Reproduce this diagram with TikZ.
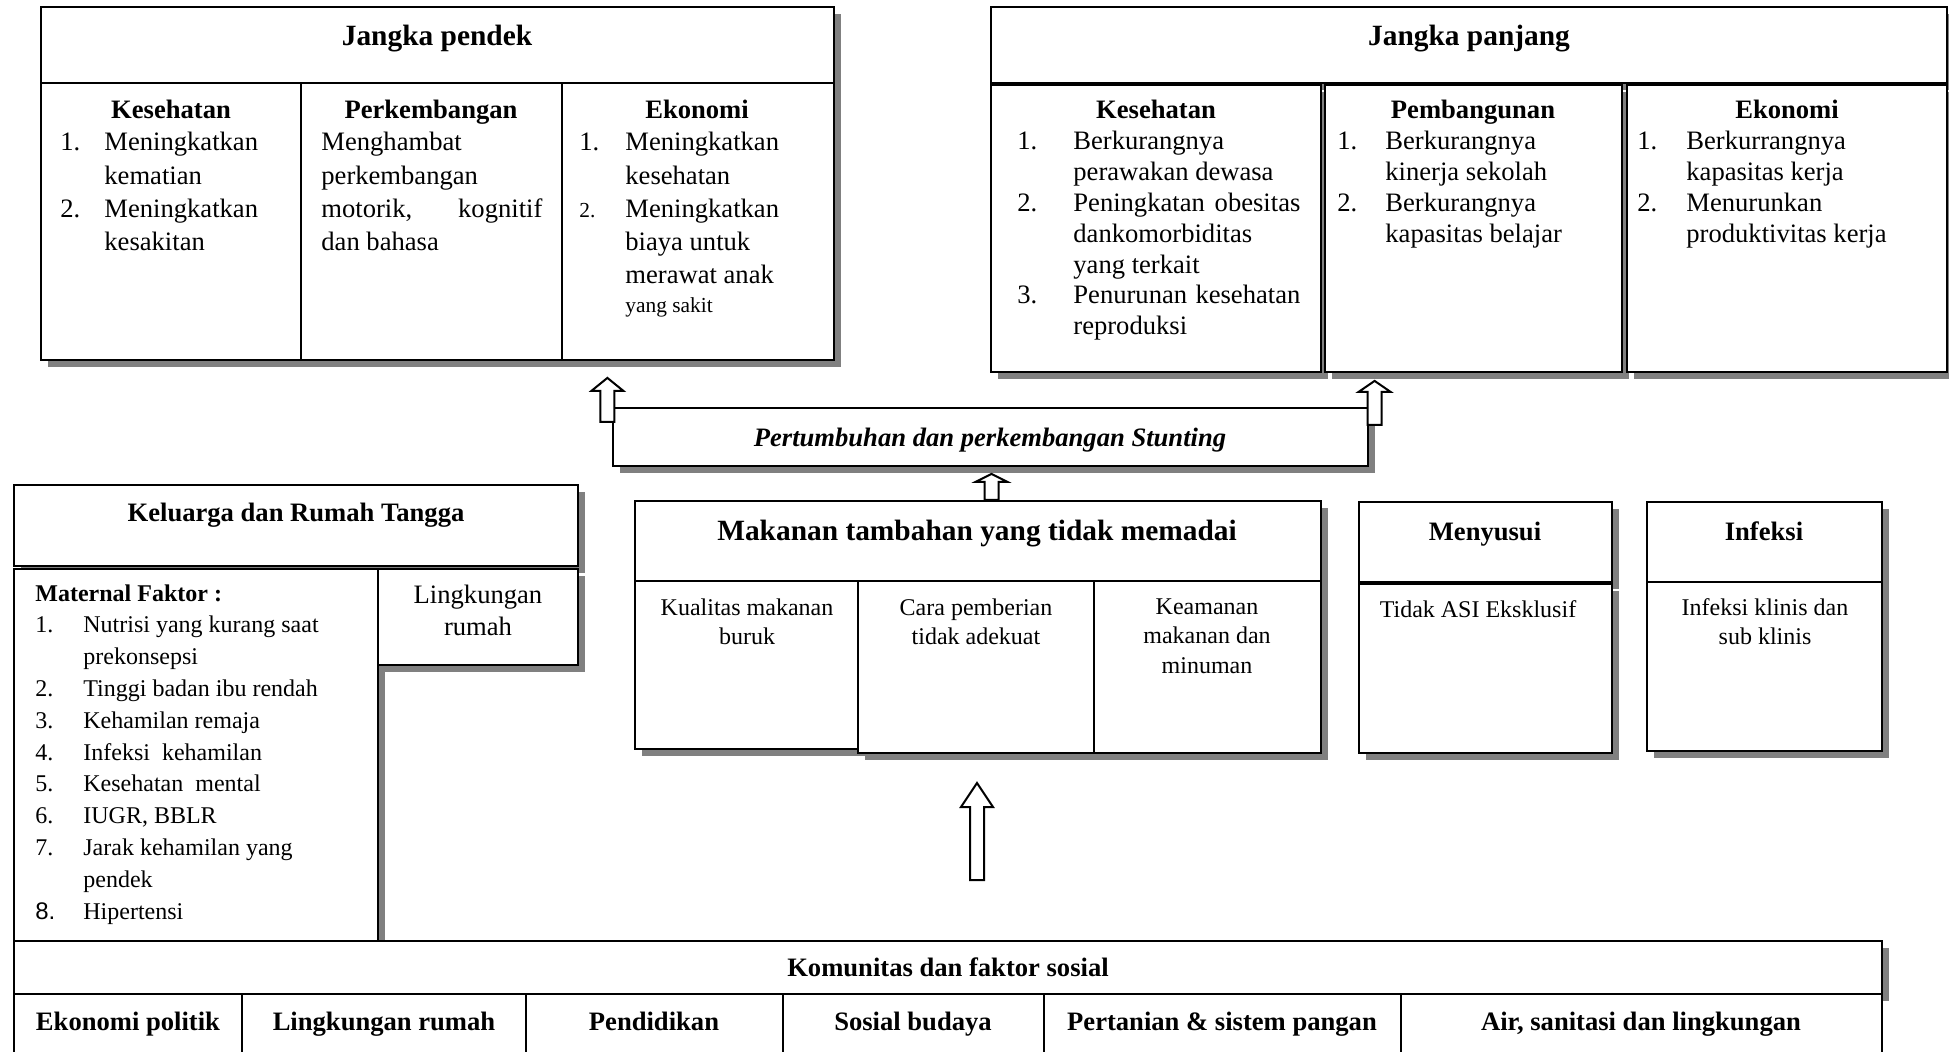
\documentclass[tikz,border=0pt]{standalone}
\usepackage{fontspec}
\setmainfont{Liberation Serif}
\newfontfamily\sansf{Liberation Sans}
\usetikzlibrary{fit,shadows}
\definecolor{shgray}{RGB}{128,128,128}
\newlength\numw
\newcommand\numlbl[1]{\makebox[\numw][l]{#1}}
\newcommand\numgap{\hspace*{\numw}}
\newcommand\fbody{\fontsize{13.3pt}{16.6pt}\selectfont}
\newcommand\fbodyb{\fontsize{13.3pt}{15.4pt}\selectfont}
\newcommand\fsmall{\fontsize{12pt}{15.9pt}\selectfont}
\newcommand\ftiny{\fontsize{10.7pt}{12pt}\selectfont}

\begin{document}
\begin{tikzpicture}
        [x=0.5pt, y=-0.5pt,
         box/.style={draw, line width=1.1pt, fill=white, inner sep=0pt},
         shbox/.style={box, drop shadow={shadow xshift=3.5pt, shadow yshift=-3.5pt, fill=shgray, opacity=1}},
         ttl/.style={inner sep=0pt, anchor=base, font=\fontsize{14.7pt}{17pt}\selectfont\bfseries},
         hd/.style={inner sep=0pt, anchor=base, font=\fontsize{13.3pt}{16pt}\selectfont\bfseries},
         hdit/.style={inner sep=0pt, anchor=base, font=\fontsize{13.3pt}{16pt}\selectfont\bfseries\itshape},
         lst/.style={inner sep=0pt, anchor=north west, align=left},
         cell/.style={inner sep=0pt, anchor=north, align=center, font=\fontsize{12pt}{14.75pt}\selectfont},
         arrowline/.style={draw, fill=white, line width=1pt, line join=miter},
         pics/uparrow/.style 2 args={code={
           \draw[arrowline] (-7,0) -- (-7,{-#1+#2}) -- (-16,{-#1+#2}) -- (0,-#1)
             -- (16,{-#1+#2}) -- (7,{-#1+#2}) -- (7,0) -- cycle;}}]

        \useasboundingbox (0,0) rectangle (1949,1051);

        % jangka pendek
        \node[shbox, fit={(41,7) (834,83)}] (pendek) {};
        \node[shbox, fit={(41,83) (301,360)}] (pendek1) {};
        \node[shbox, fit={(301,83) (562,360)}] (pendek2) {};
        \node[shbox, fit={(562,83) (834,360)}] (pendek3) {};
        \node[ttl] (tpendek) at (437,45) {Jangka pendek};
        \node[hd] (hpendek1) at (171,118) {Kesehatan};
        \node[hd] (hpendek2) at (431,118) {Perkembangan};
        \node[hd] (hpendek3) at (697,118) {Ekonomi};
        \node[lst, font=\fbody\setlength\numw{22pt}] (lpendek1) at (60,132)
          {\numlbl{1.}Meningkatkan\\\numgap kematian\\\numlbl{2.}Meningkatkan\\\numgap kesakitan};
        \node[lst, font=\fbody] (lpendek2) at (321,132)
          {Menghambat\\perkembangan\\\makebox[110.5pt][s]{motorik, kognitif}\\dan bahasa};
        \node[lst, font=\fbody\setlength\numw{23pt}] (lpendek3) at (579,132)
          {\numlbl{1.}Meningkatkan\\\numgap kesehatan\\\numlbl{\ftiny 2.}Meningkatkan\\\numgap biaya untuk\\\numgap merawat anak\\[-2pt]\numgap{\ftiny yang sakit}};

        % jangka panjang
        \node[shbox, fit={(991,7) (1947,83)}] (panjang) {};
        \node[shbox, fit={(991,85) (1321,372)}] (panjang1) {};
        \node[shbox, fit={(1325,85) (1622,372)}] (panjang2) {};
        \node[shbox, fit={(1627,85) (1947,372)}] (panjang3) {};
        \node[ttl] (tpanjang) at (1469,45) {Jangka panjang};
        \node[hd] (hpanjang1) at (1156,118) {Kesehatan};
        \node[hd] (hpanjang2) at (1473,118) {Pembangunan};
        \node[hd] (hpanjang3) at (1787,118) {Ekonomi};
        \node[lst, font=\fbodyb\setlength\numw{28pt}] (lpanjang1) at (1017,131)
          {\numlbl{1.}Berkurangnya\\\numgap perawakan dewasa\\\numlbl{2.}\makebox[113.5pt][s]{Peningkatan obesitas}\\\numgap dankomorbiditas\\\numgap yang terkait\\\numlbl{3.}\makebox[113.5pt][s]{Penurunan kesehatan}\\\numgap reproduksi};
        \node[lst, font=\fbodyb\setlength\numw{24pt}] (lpanjang2) at (1337,131)
          {\numlbl{1.}Berkurangnya\\\numgap kinerja sekolah\\\numlbl{2.}Berkurangnya\\\numgap kapasitas belajar};
        \node[lst, font=\fbodyb\setlength\numw{24.5pt}] (lpanjang3) at (1637,131)
          {\numlbl{1.}Berkurrangnya\\\numgap kapasitas kerja\\\numlbl{2.}Menurunkan\\\numgap produktivitas kerja};

        % pertumbuhan
        \node[shbox, fit={(613,408) (1368,466)}] (pert) {};
        \node[hdit] (tpert) at (990,446) {Pertumbuhan dan perkembangan Stunting};

        % keluarga dan rumah tangga
        \node[shbox, fit={(14,485) (578,566)}] (kel) {};
        \node[hd] (tkel) at (296,521) {Keluarga dan Rumah Tangga};
        \node[shbox, fit={(14,569) (378,941)}] (mat) {};
        \node[shbox, fit={(378,569) (578,665)}] (ling) {};
        \node[lst, font=\fsmall\setlength\numw{24pt}] (lmat) at (35,584)
          {\textbf{Maternal Faktor :}\\\numlbl{1.}Nutrisi yang kurang saat\\\numgap prekonsepsi\\\numlbl{2.}Tinggi badan ibu rendah\\\numlbl{3.}Kehamilan remaja\\\numlbl{4.}Infeksi\ \ kehamilan\\\numlbl{5.}Kesehatan\ \ mental\\\numlbl{6.}IUGR, BBLR\\\numlbl{7.}Jarak kehamilan yang\\\numgap pendek\\\numlbl{\sansf 8.}Hipertensi};
        \node[inner sep=0pt, anchor=north, align=center, font=\fontsize{13.3pt}{16pt}\selectfont] (tling) at (478,585) {Lingkungan\\rumah};

        % makanan tambahan
        \node[shbox, fit={(635,501) (1321,581)}] (mak) {};
        \node[shbox, fit={(635,581) (858,749)}] (mak1) {};
        \node[shbox, fit={(858,581) (1094,753)}] (mak2) {};
        \node[shbox, fit={(1094,581) (1321,753)}] (mak3) {};
        \node[ttl] (tmak) at (977,540) {Makanan tambahan yang tidak memadai};
        \node[cell] (cmak1) at (747,598) {Kualitas makanan\\buruk};
        \node[cell] (cmak2) at (976,598) {Cara pemberian\\tidak adekuat};
        \node[cell] (cmak3) at (1207,598) {Keamanan\\makanan dan\\minuman};

        % menyusui, infeksi
        \node[shbox, fit={(1359,502) (1612,582)}] (men) {};
        \node[shbox, fit={(1359,584) (1612,753)}] (men1) {};
        \node[hd] (tmen) at (1485,540) {Menyusui};
        \node[cell] (cmen) at (1478,600) {Tidak ASI Eksklusif};
        \node[shbox, fit={(1647,502) (1882,582)}] (inf) {};
        \node[shbox, fit={(1647,582) (1882,751)}] (inf1) {};
        \node[hd] (tinf) at (1764,540) {Infeksi};
        \node[cell] (cinf) at (1765,598) {Infeksi klinis dan\\sub klinis};

        % komunitas
        \node[shbox, fit={(14,941) (1882,994)}] (kom) {};
        \node[box, fit={(14,994) (242,1070)}] (kom1) {};
        \node[box, fit={(242,994) (526,1070)}] (kom2) {};
        \node[box, fit={(526,994) (783,1070)}] (kom3) {};
        \node[box, fit={(783,994) (1044,1070)}] (kom4) {};
        \node[box, fit={(1044,994) (1401,1070)}] (kom5) {};
        \node[box, fit={(1401,994) (1882,1070)}] (kom6) {};
        \node[hd] (tkom) at (948,976) {Komunitas dan faktor sosial};
        \node[hd] (tkom1) at (128,1030) {Ekonomi politik};
        \node[hd] (tkom2) at (384,1030) {Lingkungan rumah};
        \node[hd] (tkom3) at (654,1030) {Pendidikan};
        \node[hd] (tkom4) at (913,1030) {Sosial budaya};
        \node[hd] (tkom5) at (1222,1030) {Pertanian \& sistem pangan};
        \node[hd] (tkom6) at (1641,1030) {Air, sanitasi dan lingkungan};

        % arrows
        \pic at ([shift={(-4.5,15)}]pert.north west) {uparrow={44}{13}};
        \pic at ([shift={(5.5,18)}]pert.north east) {uparrow={44}{11}};
        \pic at ([shift={(13.5,0)}]mak.north) {uparrow={26}{8}};
        \coordinate (up) at (977,880);
        \pic at (up) {uparrow={97}{24}};
      \end{tikzpicture}
\end{document}
